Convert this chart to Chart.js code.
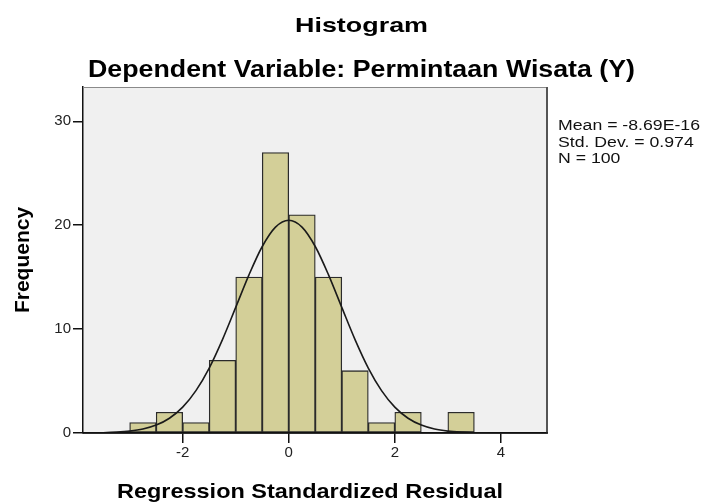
<!DOCTYPE html>
<html>
<head>
<meta charset="utf-8">
<script src="https://cdn.jsdelivr.net/npm/chart.js@4.4.1/dist/chart.umd.min.js"></script>
<style>
  html, body { margin: 0; padding: 0; background: #ffffff; }
  #wrap { width: 705px; height: 503px; position: relative; }
</style>
</head>
<body>
<div id="wrap"><canvas id="c"></canvas></div>
<script>
// ---- data ----
const binStarts = [-3.0, -2.5, -2.0, -1.5, -1.0, -0.5, 0.0, 0.5, 1.0, 1.5, 2.0, 2.5, 3.0];
const binWidth = 0.5;
const frequencies = [1, 2, 1, 7, 15, 27, 21, 15, 6, 1, 2, 0, 2];
const curveX = [-3.85, -3.75, -3.5, -3.25, -3.0, -2.75, -2.5, -2.25, -2.0, -1.75, -1.5, -1.25, -1.0, -0.75, -0.5, -0.25, 0.0,
                0.25, 0.5, 0.75, 1.0, 1.25, 1.5, 1.75, 2.0, 2.25, 2.5, 2.75, 3.0, 3.25, 3.5, 3.75];
const curveY = [0.0, 0.01, 0.03, 0.08, 0.18, 0.38, 0.76, 1.42, 2.49, 4.08, 6.25, 8.99, 12.09, 15.22, 17.95, 19.82, 20.48,
                19.82, 17.95, 15.22, 12.09, 8.99, 6.25, 4.08, 2.49, 1.42, 0.76, 0.38, 0.18, 0.08, 0.03, 0.01];
const xTicks = [-2, 0, 2, 4];
const yTicks = [0, 10, 20, 30];
const titleText = "Histogram";
const subtitleText = "Dependent Variable: Permintaan Wisata (Y)";
const xLabel = "Regression Standardized Residual";
const yLabel = "Frequency";
const statsLines = ["Mean = -8.69E-16", "Std. Dev. = 0.974", "N = 100"];

const FONT = "'Liberation Sans', Arial, Helvetica, sans-serif";

const barData = binStarts.map((s, i) => ({ x: s + binWidth / 2, y: frequencies[i] }));
const lineData = curveX.map((x, i) => ({ x: x, y: curveY[i] }));

function drawStretched(ctx, text, font, x, baseline, targetWidth, align) {
  ctx.save();
  ctx.font = font;
  ctx.textBaseline = 'alphabetic';
  ctx.textAlign = 'left';
  const w = ctx.measureText(text).width;
  const s = targetWidth / w;
  let left = align === 'center' ? x - targetWidth / 2 : x;
  ctx.translate(left, baseline);
  ctx.scale(s, 1);
  ctx.fillText(text, 0, 0);
  ctx.restore();
  return s;
}

const decor = {
  id: 'decor',
  beforeDraw(chart) {
    const { ctx, chartArea: a } = chart;
    ctx.save();
    ctx.fillStyle = '#f0f0f0';
    ctx.fillRect(a.left, a.top, a.right - a.left, a.bottom - a.top);
    ctx.restore();
  },
  afterDatasetsDraw(chart) {
    const { ctx, chartArea: a } = chart;
    ctx.save();
    ctx.strokeStyle = '#8a8a8a';
    ctx.lineWidth = 1;
    ctx.beginPath();
    ctx.moveTo(a.left, a.top + 0.5);
    ctx.lineTo(a.right, a.top + 0.5);
    ctx.stroke();
    ctx.strokeStyle = '#555555';
    ctx.lineWidth = 2;
    ctx.beginPath();
    ctx.moveTo(a.right, a.top);
    ctx.lineTo(a.right, a.bottom);
    ctx.stroke();
    ctx.strokeStyle = '#111111';
    ctx.lineWidth = 1.5;
    ctx.beginPath();
    ctx.moveTo(a.left, a.bottom);
    ctx.lineTo(a.right + 1, a.bottom);
    ctx.stroke();
    ctx.restore();
  },
  afterDraw(chart) {
    const { ctx } = chart;
    ctx.save();
    ctx.fillStyle = '#000000';
    drawStretched(ctx, titleText, "bold 21px " + FONT, 361.5, 32, 133, 'center');
    drawStretched(ctx, subtitleText, "bold 23px " + FONT, 361.5, 77, 547, 'center');
    drawStretched(ctx, xLabel, "bold 21px " + FONT, 310, 498, 386, 'center');
    ctx.font = "14px " + FONT;
    const s = 142 / ctx.measureText(statsLines[0]).width;
    const bases = [130, 146.5, 163];
    statsLines.forEach((t, i) => {
      ctx.save();
      ctx.font = "14px " + FONT;
      ctx.textBaseline = 'alphabetic';
      ctx.translate(558, bases[i]);
      ctx.scale(s, 1);
      ctx.fillStyle = '#111111';
      ctx.fillText(t, 0, 0);
      ctx.restore();
    });
    ctx.restore();
  }
};

new Chart(document.getElementById('c'), {
  data: {
    datasets: [
      {
        type: 'line',
        data: lineData,
        borderColor: '#1a1a1a',
        borderWidth: 1.6,
        pointRadius: 0,
        fill: false,
        cubicInterpolationMode: 'monotone',
        order: 0
      },
      {
        type: 'bar',
        data: barData,
        backgroundColor: '#d3cf98',
        borderColor: '#2b2b2b',
        borderWidth: 1.3,
        borderSkipped: false,
        barPercentage: 1.0,
        categoryPercentage: 1.0,
        order: 1
      }
    ]
  },
  options: {
    responsive: true,
    maintainAspectRatio: false,
    animation: false,
    devicePixelRatio: 1,
    layout: { padding: { top: 87, right: 158, left: 0, bottom: 0 } },
    plugins: {
      legend: { display: false },
      tooltip: { enabled: false },
      title: { display: false }
    },
    scales: {
      x: {
        type: 'linear',
        offset: false,
        min: -3.88,
        max: 4.87,
        afterFit(scale) { scale.height = 70; },
        afterBuildTicks(scale) { scale.ticks = xTicks.map(v => ({ value: v })); },
        grid: { display: true, offset: false, drawOnChartArea: false, drawTicks: true, tickLength: 10, color: '#111111', lineWidth: 1.5 },
        border: { display: true, color: '#111111', width: 1.5 },
        ticks: {
          padding: 1,
          color: '#222222',
          font: { family: FONT, size: 15 },
          callback: (v) => String(v)
        }
      },
      y: {
        type: 'linear',
        min: 0,
        max: 33.3,
        afterFit(scale) { scale.width = 83; },
        afterBuildTicks(scale) { scale.ticks = yTicks.map(v => ({ value: v })); },
        grid: { display: true, drawOnChartArea: false, drawTicks: true, tickLength: 10, color: '#111111', lineWidth: 1.5 },
        border: { display: true, color: '#111111', width: 1.5 },
        ticks: {
          padding: 2,
          color: '#222222',
          font: { family: FONT, size: 15 },
          callback: (v) => String(v)
        },
        title: {
          display: true,
          text: yLabel,
          color: '#000000',
          font: { family: FONT, size: 21, weight: 'bold' },
          padding: { top: 11, bottom: 0 }
        }
      }
    }
  },
  plugins: [decor]
});
</script>
</body>
</html>
